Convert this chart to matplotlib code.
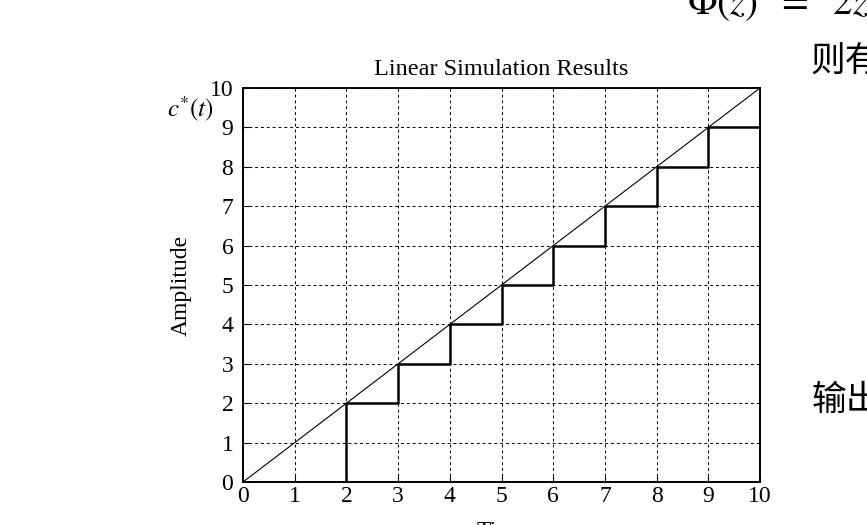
import numpy as np
import matplotlib
matplotlib.use('Agg')
from matplotlib import pyplot as plt

plt.rcParams['font.family'] = ['Liberation Serif', 'DejaVu Serif']
plt.rcParams['mathtext.fontset'] = 'stix'

# sampled output c*(t) at t = 0..10 (held between samples)
t_k = [0, 1, 2, 3, 4, 5, 6, 7, 8, 9, 10]
c_k = [0, 0, 2, 3, 4, 5, 6, 7, 8, 9, 9]
# ramp input r(t) = t
t_r = [0, 10]
r_t = [0, 10]
ticks = list(range(0, 11))

fig = plt.figure(figsize=(8.67, 5.25), dpi=100)
ax = fig.add_axes([0.2803, 0.0819, 0.5963, 0.7505])

ax.plot(t_r, r_t, color='black', lw=0.8)
ax.step(t_k, c_k, where='post', color='black', lw=1.8)

ax.set_xlim(0, 10)
ax.set_ylim(0, 10)
ax.set_xticks(ticks)
ax.set_yticks(ticks)
ax.tick_params(direction='in', length=4, labelsize=17, color='black')
ax.tick_params(axis='y', pad=7)
ax.tick_params(axis='x', pad=3)
ax.grid(True, color='black', ls=(0, (3, 3)), lw=0.7)
for s in ax.spines.values():
    s.set_linewidth(1.4)

ax.set_title('Linear Simulation Results', fontsize=17.5, pad=9)
ax.set_ylabel('Amplitude', fontsize=17, labelpad=13)
ax.set_xlabel('Time', fontsize=17, labelpad=10)

fig.text(0.1926, 0.792, r'$c^{*}(t)$', fontsize=18, ha='left', va='center')

# surrounding book text, partly cut off
fig.text(0.792, 0.973, r'$\mathit{\Phi}(z)\ \ =\ \ 2z$', fontsize=28,
         ha='left', va='baseline')
fig.text(0.935, 0.881, '则有', fontsize=25, ha='left', va='center',
         family=['Noto Sans CJK SC', 'DejaVu Sans'])
fig.text(0.936, 0.238, '输出', fontsize=25, ha='left', va='center',
         family=['Noto Sans CJK SC', 'DejaVu Sans'])

fig.savefig('out.png', dpi=100)
